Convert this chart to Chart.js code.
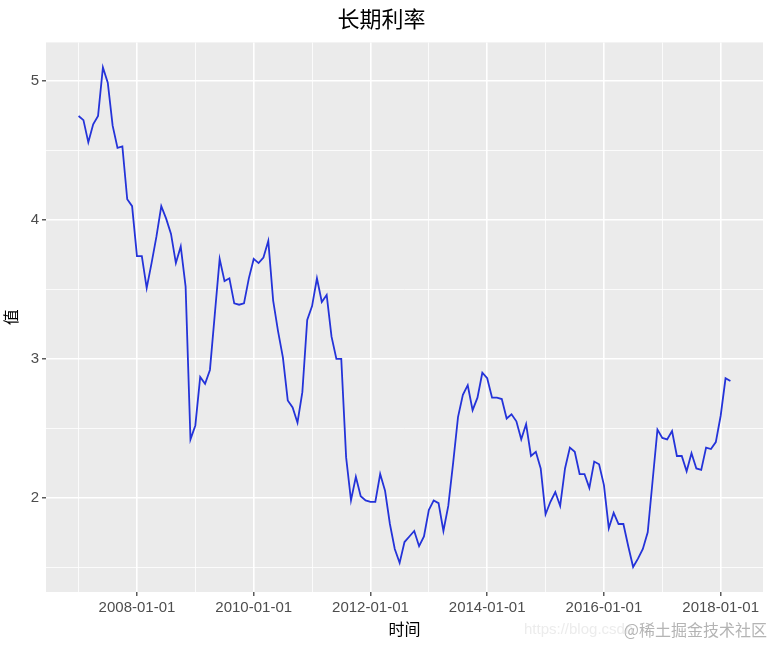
<!DOCTYPE html>
<html>
<head>
<meta charset="utf-8">
<script src="https://cdn.jsdelivr.net/npm/chart.js@4.4.1/dist/chart.umd.min.js"></script>
<style>
  html, body { margin: 0; padding: 0; background: #ffffff; }
  #wrap { width: 773px; height: 646px; position: relative; }
</style>
</head>
<body>
<div id="wrap"><canvas id="rateChart" width="773" height="646"></canvas></div>
<script>
// First observation of the monthly series
const startYear = 2007;
const startMonth = 1;

// Long-term rate, one value per month, 2007-01 .. 2018-03
const rates = [
  4.75, 4.72, 4.56, 4.69, 4.75, 5.10, 4.99, 4.68, 4.52, 4.53, 4.15, 4.10,
  3.74, 3.74, 3.51, 3.69, 3.88, 4.10, 4.01, 3.90, 3.69, 3.81, 3.52, 2.42,
  2.52, 2.87, 2.82, 2.92, 3.32, 3.72, 3.56, 3.58, 3.40, 3.39, 3.40, 3.58,
  3.72, 3.69, 3.73, 3.85, 3.42, 3.20, 3.01, 2.70, 2.65, 2.54, 2.76, 3.28,
  3.38, 3.58, 3.41, 3.46, 3.16, 3.00, 3.00, 2.29, 1.98, 2.15, 2.01, 1.98,
  1.97, 1.97, 2.17, 2.05, 1.81, 1.63, 1.53, 1.68, 1.72, 1.76, 1.65, 1.72,
  1.91, 1.98, 1.96, 1.76, 1.94, 2.25, 2.58, 2.74, 2.81, 2.63, 2.72, 2.90,
  2.86, 2.72, 2.72, 2.71, 2.57, 2.60, 2.55, 2.42, 2.53, 2.30, 2.33, 2.21,
  1.88, 1.97, 2.04, 1.94, 2.21, 2.36, 2.33, 2.17, 2.17, 2.07, 2.26, 2.24,
  2.09, 1.78, 1.89, 1.81, 1.81, 1.65, 1.50, 1.56, 1.63, 1.75, 2.12, 2.49,
  2.43, 2.42, 2.48, 2.30, 2.30, 2.19, 2.32, 2.21, 2.20, 2.36, 2.35, 2.40,
  2.59, 2.86, 2.84
];

// x breaks: labelled (major) and grid-only (minor)
const xMajorDates = ["2008-01-01", "2010-01-01", "2012-01-01", "2014-01-01", "2016-01-01", "2018-01-01"];
const xMinorDates = ["2007-01-01", "2009-01-01", "2011-01-01", "2013-01-01", "2015-01-01", "2017-01-01"];

// y breaks
const yMajorTicks = [2, 3, 4, 5];
const yMinorTicks = [1.5, 2.5, 3.5, 4.5];

const FONT = "'Liberation Sans', Arial, 'Noto Sans CJK SC', sans-serif";
const TEXT_GREY = "#4d4d4d";

// months since the first observation
function monthIndex(dateStr) {
  const [y, m] = dateStr.split("-").map(Number);
  return (y - startYear) * 12 + (m - startMonth);
}

const points = rates.map((v, i) => ({ x: i, y: v }));

const xMajor = xMajorDates.map(monthIndex);
const xMinor = xMinorDates.map(monthIndex);
const xLabelFor = {};
xMajorDates.forEach((d) => { xLabelFor[monthIndex(d)] = d; });

// ggplot style 5% expansion of the data range
const lastIndex = rates.length - 1;
const xPad = lastIndex * 0.05;
const yLo = Math.min(...rates);
const yHi = Math.max(...rates);
const yPad = (yHi - yLo) * 0.05;

const isXMajor = (v) => xMajor.includes(v);
const isYMajor = (v) => yMajorTicks.includes(v);

// panel background + watermark
const panelBg = {
  id: "panelBg",
  beforeDraw(chart) {
    const { ctx, chartArea: a } = chart;
    ctx.save();
    ctx.fillStyle = "#ebebeb";
    ctx.fillRect(a.left, a.top, a.right - a.left, a.bottom - a.top);
    ctx.restore();
  },
  afterDraw(chart) {
    const { ctx } = chart;
    ctx.save();
    ctx.textBaseline = "middle";
    ctx.font = "15px " + FONT;
    ctx.fillStyle = "#ececec";
    ctx.fillText("https://blog.csdn", 524, 630);
    ctx.font = "16px 'Noto Sans CJK SC', sans-serif";
    ctx.fillStyle = "#b4b4b4";
    ctx.textAlign = "right";
    ctx.fillText("@稀土掘金技术社区", 767, 630);
    ctx.restore();
  }
};

const rateChart = new Chart(document.getElementById("rateChart"), {
  type: "line",
  data: {
    datasets: [{
      label: "长期利率",
      data: points,
      borderColor: "#2433d9",
      borderWidth: 1.8,
      pointRadius: 0,
      tension: 0,
      fill: false
    }]
  },
  options: {
    responsive: false,
    animation: false,
    devicePixelRatio: 1,
    layout: { padding: { left: 0, right: 10, top: 0, bottom: 0 } },
    plugins: {
      legend: { display: false },
      tooltip: { enabled: false },
      title: {
        display: true,
        text: "长期利率",
        color: "#000000",
        font: { family: "'Noto Sans CJK SC', sans-serif", size: 22, weight: "normal" },
        padding: { top: 5, bottom: 11 }
      }
    },
    scales: {
      x: {
        type: "linear",
        min: -xPad,
        max: lastIndex + xPad,
        afterBuildTicks: (scale) => {
          scale.ticks = [...xMinor, ...xMajor].sort((a, b) => a - b).map((v) => ({ value: v }));
        },
        afterFit: (scale) => { scale.height = 54; },
        border: { display: false },
        grid: {
          color: "#ffffff",
          lineWidth: (c) => (isXMajor(c.tick.value) ? 1.6 : 0.8),
          drawTicks: true,
          tickLength: 4,
          tickWidth: 1.2,
          tickColor: (c) => (isXMajor(c.tick.value) ? "#333333" : "rgba(0,0,0,0)")
        },
        ticks: {
          autoSkip: false,
          maxRotation: 0,
          padding: 3,
          color: TEXT_GREY,
          font: { family: FONT, size: 15 },
          callback: (v) => xLabelFor[v] || ""
        },
        title: {
          display: true,
          text: "时间",
          color: "#000000",
          font: { family: "'Noto Sans CJK SC', sans-serif", size: 16 },
          padding: { top: 0, bottom: 7 }
        }
      },
      y: {
        type: "linear",
        min: yLo - yPad,
        max: yHi + yPad,
        afterBuildTicks: (scale) => {
          scale.ticks = [...yMinorTicks, ...yMajorTicks].sort((a, b) => a - b).map((v) => ({ value: v }));
        },
        afterFit: (scale) => { scale.width = 46; },
        border: { display: false },
        grid: {
          color: "#ffffff",
          lineWidth: (c) => (isYMajor(c.tick.value) ? 1.6 : 0.8),
          drawTicks: true,
          tickLength: 4,
          tickWidth: 1.2,
          tickColor: (c) => (isYMajor(c.tick.value) ? "#333333" : "rgba(0,0,0,0)")
        },
        ticks: {
          padding: 3,
          color: TEXT_GREY,
          font: { family: FONT, size: 15 },
          callback: (v) => (isYMajor(v) ? String(v) : "")
        },
        title: {
          display: true,
          text: "值",
          color: "#000000",
          font: { family: "'Noto Sans CJK SC', sans-serif", size: 16 },
          padding: { top: 1, bottom: 0 }
        }
      }
    }
  },
  plugins: [panelBg]
});
</script>
</body>
</html>
